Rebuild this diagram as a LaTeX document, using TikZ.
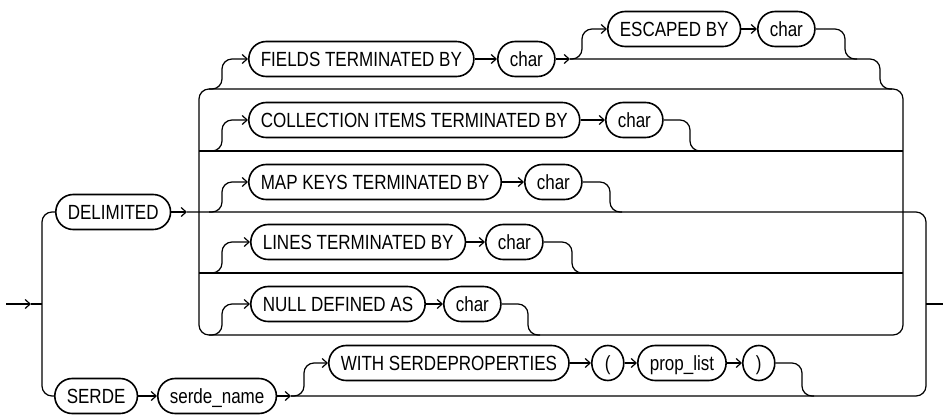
\documentclass[tikz,border=0pt]{standalone}
\usepackage{fontspec}
\setmainfont[FakeStretch=0.83]{Liberation Sans}
\usetikzlibrary{arrows.meta,shapes.geometric}
\begin{document}
\begin{tikzpicture}[x=1pt,y=-1pt,
  rr/.style={draw, line width=1.6pt, rounded corners=17.4pt, minimum height=35pt,
    inner xsep=12pt, inner ysep=0pt, text height=14.7pt, text depth=0pt, anchor=west,
    font=\fontsize{20.5}{24}\selectfont},
  par/.style={draw, ellipse, line width=1.6pt, minimum width=32pt, minimum height=35pt,
    inner sep=0pt, text height=14.7pt, text depth=0pt, anchor=west,
    font=\fontsize{20.5}{24}\selectfont},
  ln/.style={line width=1.2pt},
  arr/.style={ln, -{Straight Barb[length=5pt,width=9pt]}},
  rc/.style={ln, rounded corners=10pt}
]
\useasboundingbox (0,0) rectangle (943,415);

% nodes
\node[rr] (del) at (55,212) {DELIMITED};
\node[rr] (serde) at (54,396) {SERDE};
\node[rr] (sname) at (157,396) {serde\_name};
\node[rr] (fields) at (248,59) {FIELDS TERMINATED BY};
\node[rr] (c1) at (497,59) {char};
\node[rr] (esc) at (607,29) {ESCAPED BY};
\node[rr] (c2) at (757,29) {char};
\node[rr] (coll) at (248,120) {COLLECTION ITEMS TERMINATED BY};
\node[rr] (c3) at (605,120) {char};
\node[rr] (map) at (248,182) {MAP KEYS TERMINATED BY};
\node[rr] (c4) at (524,182) {char};
\node[rr] (lines) at (250,242) {LINES TERMINATED BY};
\node[rr] (c5) at (485,242) {char};
\node[rr] (null) at (250,304) {NULL DEFINED AS};
\node[rr] (c6) at (443,304) {char};
\node[rr] (with) at (328,363) {WITH SERDEPROPERTIES};
\node[par] (lp) at (591,363) {(};
\node[rr] (plist) at (637,363) {prop\_list};
\node[par] (rp) at (742,363) {)};

% coordinates
\coordinate (in) at (6,304);
\coordinate (inA) at (31,304);
\coordinate (Lb) at (42,304);
\coordinate (delx) at (187,212);
\coordinate (Rb) at (926,304);
\coordinate (out) at (943,304);
\coordinate (c1x) at (570,59);
\coordinate (snx) at (291,396);

% entry / exit
\draw[arr] (in) -- (inA);
\draw[ln] (inA) -- (Lb);
\draw[rc] (del.west) -- (42,212) -- (42,396) -- (serde.west);
\draw[arr] (del.east) -- (delx);
\draw[rc] (delx) -- (926,212) -- (926,396) -- (snx);
\draw[ln] (Rb) -- (out);

% ladder
\draw[rc] (199,212) -- (199,89) -- (903,89) -- (903,335) -- (199,335) -- (199,212);
\draw[ln] (199,151) -- (903,151);
\draw[ln] (199,273) -- (903,273);

% branches into options
\draw[rc,arr] (209,89) -- (222,89) -- (222,59) -- (fields.west);
\draw[rc,arr] (209,151) -- (222,151) -- (222,120) -- (coll.west);
\draw[rc,arr] (209,212) -- (222,212) -- (222,182) -- (map.west);
\draw[rc,arr] (209,273) -- (222,273) -- (222,242) -- (lines.west);
\draw[rc,arr] (209,335) -- (222,335) -- (222,304) -- (null.west);

% FIELDS group
\draw[arr] (fields.east) -- (c1.west);
\draw[arr] (c1.east) -- (c1x);
\draw[rc] (c1x) -- (880,59) -- (880,89) -- (892,89);
\draw[rc,arr] (c1x) -- (582,59) -- (582,29) -- (esc.west);
\draw[arr] (esc.east) -- (c2.west);
\draw[rc] (c2.east) -- (845,29) -- (845,59) -- (857,59);

% other options
\draw[arr] (coll.east) -- (c3.west);
\draw[rc] (c3.east) -- (690,120) -- (690,151) -- (702,151);
\draw[arr] (map.east) -- (c4.west);
\draw[rc] (c4.east) -- (610,182) -- (610,212) -- (622,212);
\draw[arr] (lines.east) -- (c5.west);
\draw[rc] (c5.east) -- (572,242) -- (572,273) -- (584,273);
\draw[arr] (null.east) -- (c6.west);
\draw[rc] (c6.east) -- (528,304) -- (528,335) -- (540,335);

% SERDE row
\draw[arr] (serde.east) -- (sname.west);
\draw[arr] (sname.east) -- (snx);
\draw[rc,arr] (snx) -- (304,396) -- (304,363) -- (with.west);
\draw[arr] (with.east) -- (lp.west);
\draw[arr] (lp.east) -- (plist.west);
\draw[arr] (plist.east) -- (rp.west);
\draw[rc] (rp.east) -- (802,363) -- (802,396) -- (814,396);
\end{tikzpicture}
\end{document}
